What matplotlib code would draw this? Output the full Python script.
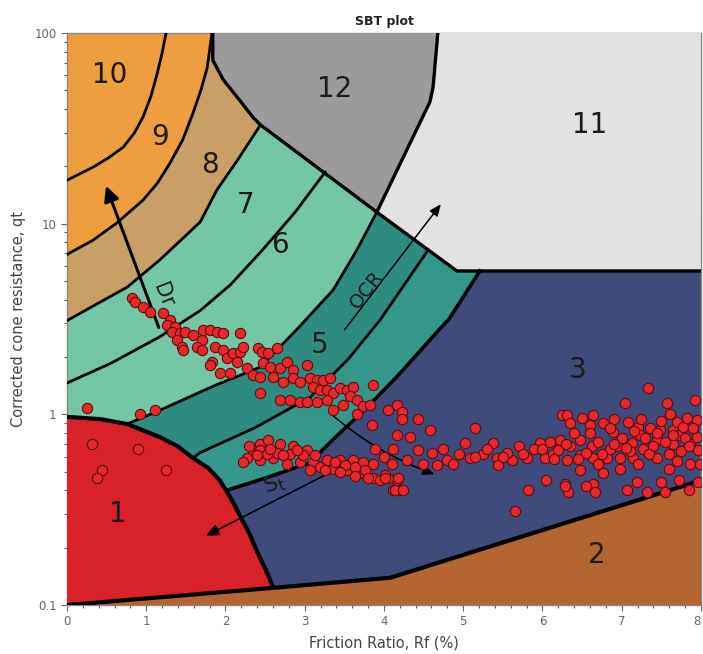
import matplotlib
matplotlib.use("Agg")
import matplotlib.pyplot as plt
from matplotlib.ticker import FixedLocator, MultipleLocator, NullFormatter

# zone boundaries (Rf %, qt)
arc_a_rf = [0, 0.33, 0.52, 0.71, 0.85, 0.96, 1.06, 1.14, 1.20, 1.25]
arc_a_qt = [16.9, 19.8, 22.1, 25.2, 29.9, 36.3, 46.7, 61.7, 78.5, 100]
arc_b_rf = [0, 0.33, 0.63, 0.96, 1.14, 1.30, 1.46, 1.59, 1.69, 1.77, 1.83]
arc_b_qt = [6.9, 8.2, 10.1, 13.3, 16.3, 20.8, 27.5, 38, 50.2, 66, 100]
arc_c_rf = [0, 0.33, 0.76, 1.17, 1.68, 1.89, 2.15, 2.40, 2.44]
arc_c_qt = [3.1, 3.7, 4.65, 6.45, 10.2, 15, 21.5, 31, 33]
arc_d_rf = [0, 0.55, 1.17, 1.68, 2.06, 2.47, 2.88, 3.26]
arc_d_qt = [1.46, 1.85, 2.55, 3.5, 4.77, 7.3, 11.5, 18.7]
arc_e_rf = [0.76, 1.17, 1.87, 2.44, 2.94, 3.36, 3.66, 3.91]
arc_e_qt = [0.89, 1.05, 1.42, 1.77, 2.9, 4.5, 7.3, 11.5]
arc_f_rf = [1.59, 1.68, 2.37, 3.07, 3.55, 3.95, 4.56]
arc_f_qt = [0.59, 0.63, 0.85, 1.23, 1.95, 3.12, 7.3]
arc_g_rf = [2.02, 2.55, 3.07, 3.36, 3.75, 4.16, 4.83, 5.21]
arc_g_qt = [0.40, 0.47, 0.56, 0.74, 1.05, 1.57, 3.2, 5.65]
zone1_rf = [0, 0.42, 0.76, 1.17, 1.39, 1.59, 1.78, 1.93, 2.08, 2.21, 2.31, 2.40, 2.50, 2.60]
zone1_qt = [0.97, 0.944, 0.89, 0.76, 0.683, 0.59, 0.524, 0.45, 0.356, 0.28, 0.233, 0.19, 0.156, 0.124]
zone2_rf = [0, 2.60, 4.08, 8]
zone2_qt = [0.1, 0.123, 0.139, 0.45]
zone12_rf = [1.84, 1.84, 1.97, 2.15, 2.35, 2.44, 3.91, 4.58, 4.62, 4.68]
zone12_qt = [100, 72, 57, 46, 36, 33, 11.5, 43.5, 52, 100]
zone11_rf = [4.68, 4.62, 4.58, 3.91, 4.92, 8, 8]
zone11_qt = [100, 52, 43.5, 11.5, 5.65, 5.65, 100]

# measured points
rf_pts = [0.82, 0.86, 0.96, 1.05, 1.21, 1.30, 1.26, 1.36, 1.32, 1.43, 1.49, 1.39, 1.45, 1.46,
          1.59, 1.70, 1.72, 1.80, 1.89, 1.97, 1.64, 1.70, 1.87, 1.97, 2.02, 2.09, 2.18, 2.18,
          2.22, 1.83, 1.80, 1.93, 2.06, 2.15, 2.27, 2.35, 2.41, 2.46, 2.54, 2.65, 2.47, 2.56,
          2.69, 2.78, 2.85, 3.03, 2.44, 2.60, 2.73, 2.85, 2.94, 3.07, 3.15, 3.23, 3.32, 3.10,
          3.19, 3.28, 3.36, 3.44, 3.53, 3.61, 3.57, 3.66, 3.73, 3.82, 3.86, 3.36, 3.48, 2.69,
          2.81, 2.94, 3.03, 3.15, 2.44, 3.28, 3.66, 3.85, 0.92, 1.11, 0.25,
          0.32, 0.90, 0.44, 0.38, 1.25,
          2.35, 2.44, 2.54, 2.69, 2.85, 3.03, 2.27, 2.44, 2.60, 2.78, 2.94, 3.10, 3.28, 3.44,
          3.61, 3.73, 3.86, 2.44, 2.52, 2.65, 2.81, 2.98, 3.19, 3.36, 3.53, 3.70, 3.86, 3.95,
          4.16, 4.20, 4.11, 2.30, 2.40, 2.73, 2.90, 2.56, 3.13, 3.38, 3.51, 3.63, 3.76, 2.22,
          3.07, 3.26, 3.44, 3.63, 3.80, 4.05, 4.01,
          4.05, 4.16, 4.23, 4.23, 4.43, 4.58, 4.16, 4.33, 4.11, 4.43, 4.61, 4.74, 4.29, 4.49,
          4.67, 4.79, 4.87, 4.01, 4.18, 4.14, 4.24, 3.89, 5.02, 5.15, 5.09, 5.25, 5.38, 5.43,
          5.44, 5.62, 5.80, 5.82, 5.97, 6.03, 6.13, 6.22, 6.25, 6.31, 6.31, 6.28, 6.32, 6.47,
          6.47, 6.47, 6.50, 6.60, 6.64, 6.62, 6.64, 6.64, 6.66, 6.76, 6.81, 6.76, 6.89, 6.94,
          6.98, 6.98, 7.04, 7.08, 7.13, 7.14, 7.19, 7.21, 7.23, 7.27, 7.32, 7.33, 7.36, 7.44,
          7.44, 7.48, 7.55, 7.57, 7.61, 7.65, 7.65, 7.70, 7.73, 7.73, 7.77, 7.82, 7.86, 7.86,
          7.92, 7.95, 7.95, 7.96, 7.96, 7.99, 5.65, 6.28, 7.07,
          6.20, 6.35, 6.55, 6.70, 6.85, 7.00, 7.10, 7.30, 7.40, 7.55, 7.60, 7.80, 7.90, 6.40,
          6.90, 7.50, 7.75, 6.10, 5.90, 5.70, 5.55, 5.30, 5.15, 4.95, 6.70, 7.20, 7.60, 6.05,
          6.55, 7.50, 7.85, 4.00, 4.10,
          6.30, 6.45, 6.60, 6.75, 6.90, 7.05, 7.15, 7.35, 7.45, 7.65, 7.85, 6.35, 6.85, 7.25,
          7.70, 5.75, 6.00, 6.15, 5.50]
qt_pts = [4.07, 3.88, 3.66, 3.44, 3.40, 3.12, 2.94, 2.88, 2.70, 2.67, 2.70, 2.45, 2.25, 2.17,
          2.61, 2.45, 2.77, 2.77, 2.70, 2.67, 2.25, 2.17, 2.25, 2.17, 1.97, 2.10, 2.12, 2.67,
          2.25, 1.88, 1.82, 1.65, 1.65, 1.88, 1.74, 1.61, 2.23, 2.12, 2.10, 2.23, 1.85, 1.77,
          1.74, 1.88, 1.71, 1.82, 1.57, 1.57, 1.48, 1.55, 1.48, 1.55, 1.51, 1.51, 1.55, 1.39,
          1.34, 1.34, 1.29, 1.37, 1.34, 1.39, 1.25, 1.19, 1.10, 1.12, 1.43, 1.05, 1.12, 1.19,
          1.19, 1.16, 1.16, 1.16, 1.29, 1.19, 1.01, 0.88, 1.01, 1.05, 1.08,
          0.70, 0.66, 0.51, 0.465, 0.51,
          0.65, 0.70, 0.73, 0.70, 0.68, 0.65, 0.59, 0.575, 0.59, 0.55, 0.56, 0.56, 0.575, 0.575,
          0.575, 0.56, 0.55, 0.65, 0.62, 0.63, 0.62, 0.61, 0.53, 0.52, 0.51, 0.49, 0.465, 0.45,
          0.45, 0.40, 0.40, 0.68, 0.61, 0.61, 0.65, 0.66, 0.61, 0.56, 0.54, 0.53, 0.51, 0.56,
          0.51, 0.51, 0.50, 0.475, 0.465, 0.465, 0.48,
          1.05, 1.12, 1.03, 0.95, 0.95, 0.83, 0.78, 0.76, 0.66, 0.65, 0.63, 0.66, 0.575, 0.55,
          0.54, 0.575, 0.55, 0.465, 0.465, 0.40, 0.40, 0.66, 0.71, 0.85, 0.59, 0.62, 0.71, 0.59,
          0.54, 0.575, 0.59, 0.40, 0.71, 0.59, 0.62, 0.73, 0.99, 0.99, 0.575, 0.43, 0.39, 0.73,
          0.61, 0.51, 0.96, 0.88, 0.99, 0.68, 0.59, 0.43, 0.39, 0.90, 0.59, 0.49, 0.81, 0.68,
          0.59, 0.52, 1.15, 0.91, 0.71, 0.59, 0.44, 0.86, 0.78, 0.66, 0.39, 1.37, 0.85, 0.73,
          0.59, 0.83, 0.39, 1.15, 1.01, 0.83, 0.70, 0.91, 0.78, 0.45, 0.86, 0.96, 0.70, 0.55,
          1.19, 0.93, 0.76, 0.65, 0.44, 0.55, 0.31, 0.42, 0.40,
          0.65, 0.68, 0.63, 0.72, 0.66, 0.75, 0.64, 0.75, 0.68, 0.72, 0.62, 0.75, 0.85, 0.80,
          0.95, 0.92, 0.64, 0.72, 0.66, 0.68, 0.63, 0.66, 0.60, 0.62, 0.55, 0.55, 0.52, 0.45,
          0.42, 0.44, 0.40, 0.60, 0.55,
          0.70, 0.58, 0.80, 0.62, 0.70, 0.67, 0.82, 0.62, 0.80, 0.78, 0.68, 0.90, 0.85, 0.95,
          0.57, 0.62, 0.66, 0.58, 0.60]

zone_labels = ["10", "9", "8", "7", "6", "5", "12", "11", "3", "2", "1"]
label_rf = [0.54, 1.17, 1.80, 2.25, 2.69, 3.19, 3.38, 6.60, 6.44, 6.69, 0.64]
label_qt = [60, 28.5, 20.3, 12.5, 7.7, 2.31, 51, 33, 1.71, 0.183, 0.30]
x_ticks = [0, 1, 2, 3, 4, 5, 6, 7, 8]

fig = plt.figure(figsize=(7.03, 6.54), dpi=100)
ax = fig.add_axes([0.0953, 0.0749, 0.9017, 0.8746])
ax.set_yscale("log")
ax.set_xlim(0, 8)
ax.set_ylim(0.1, 100)

c10 = "#ef9e3f"
ax.fill([0, 8, 8, 0], [0.1, 0.1, 100, 100], color=c10, lw=0, zorder=1)
fills = [(arc_a_rf, arc_a_qt, 100, 0, "#ef9e3f"),
         (arc_b_rf, arc_b_qt, 100, 0, "#c8a066"),
         (arc_c_rf, arc_c_qt, 33, 0, "#73c7a5"),
         (arc_d_rf, arc_d_qt, 18.7, 0, "#73c7a5"),
         (arc_e_rf, arc_e_qt, 11.5, 0.76, "#2e8b7f"),
         (arc_f_rf, arc_f_qt, 7.3, 1.59, "#35978a"),
         (arc_g_rf, arc_g_qt, 5.65, 2.02, "#3e4b7b")]
for rf, qt, top, x0, col in fills:
    ax.fill(rf + [8, 8, x0], qt + [top, 0.1, 0.1], color=col, lw=0, zorder=2)
ax.fill(zone12_rf, zone12_qt, color="#9b9b9b", lw=0, zorder=3)
ax.fill(zone11_rf, zone11_qt, color="#e2e2e2", lw=0, zorder=3)
ax.fill(zone2_rf + [8], zone2_qt + [0.1], color="#b5652f", lw=0, zorder=3)
ax.fill(zone1_rf + [0], zone1_qt + [0.1], color="#d92128", lw=0, zorder=3)

for rf, qt in [(arc_a_rf, arc_a_qt), (arc_b_rf, arc_b_qt), (arc_c_rf, arc_c_qt),
               (arc_d_rf, arc_d_qt), (arc_e_rf, arc_e_qt), (arc_f_rf, arc_f_qt)]:
    ax.plot(rf, qt, color="black", lw=2, solid_capstyle="round", solid_joinstyle="round", zorder=4)
ax.plot(arc_g_rf, arc_g_qt, color="black", lw=2.6, solid_joinstyle="round", zorder=4)
ax.plot(zone12_rf, zone12_qt, color="black", lw=2.4, solid_joinstyle="round", zorder=4)
ax.plot(zone11_rf[3:6], zone11_qt[3:6], color="black", lw=2.4, zorder=4)
ax.plot(zone2_rf, zone2_qt, color="black", lw=3, zorder=4)
ax.plot(zone1_rf, zone1_qt, color="black", lw=3, solid_joinstyle="round", zorder=4)

for t, x, y in zip(zone_labels, label_rf, label_qt):
    ax.text(x, y, t, fontsize=20, color="#1c1c1c", ha="center", va="center", zorder=5)

# trend arrows
ax.annotate("", xy=(0.48, 16.3), xytext=(1.17, 2.77), zorder=6,
            arrowprops=dict(arrowstyle="-|>,head_length=0.9,head_width=0.45", lw=2.2, color="black"))
ax.annotate("", xy=(4.74, 13.0), xytext=(3.48, 2.7), zorder=6,
            arrowprops=dict(arrowstyle="-|>,head_length=0.7,head_width=0.3", lw=1.1, color="black"))
ax.annotate("", xy=(1.72, 0.227), xytext=(3.38, 0.51), zorder=6,
            arrowprops=dict(arrowstyle="-|>,head_length=0.8,head_width=0.35", lw=1.1, color="black"))
ax.annotate("", xy=(4.67, 0.48), xytext=(3.28, 1.05), zorder=6,
            arrowprops=dict(arrowstyle="-|>,head_length=0.7,head_width=0.3", lw=1.1, color="black",
                            connectionstyle="arc3,rad=0.1"))
ax.text(1.21, 4.2, "Dr", fontsize=15, rotation=-68, ha="center", va="center", color="#1c1c1c", zorder=6)
ax.text(3.78, 4.5, "OCR", fontsize=14, rotation=52, ha="center", va="center", color="#1c1c1c", zorder=6)
ax.text(2.62, 0.43, r"$\mathregular{S_t}$", fontsize=16, rotation=20, ha="center", va="center",
        color="#1c1c1c", zorder=6)

ax.scatter(rf_pts, qt_pts, s=55, facecolor="#e8262b", edgecolor="#5c1010", linewidth=0.8, zorder=7)

ax.set_title("SBT plot", fontsize=9, fontweight="bold", color="#222222", pad=6)
ax.set_xlabel("Friction Ratio, Rf (%)", fontsize=10.5, color="#444444", labelpad=5)
ax.set_ylabel("Corrected cone resistance, qt", fontsize=10.5, color="#444444", labelpad=6)
ax.yaxis.set_major_locator(FixedLocator([0.1, 1, 10, 100]))
ax.set_yticklabels(["0.1", "1", "10", "100"])
ax.set_xticks(x_ticks)
xlabels = ax.set_xticklabels([str(v) for v in x_ticks])
xlabels[-1].set_horizontalalignment("right")
ax.xaxis.set_minor_locator(MultipleLocator(0.2))
ax.yaxis.set_minor_formatter(NullFormatter())
ax.tick_params(which="both", direction="out", colors="#666666", labelsize=8.5, length=4, width=0.8)
ax.tick_params(which="minor", length=2.5)
for sp in ax.spines.values():
    sp.set_color("#888888")
    sp.set_linewidth(1)

fig.savefig("out.png", dpi=100)
